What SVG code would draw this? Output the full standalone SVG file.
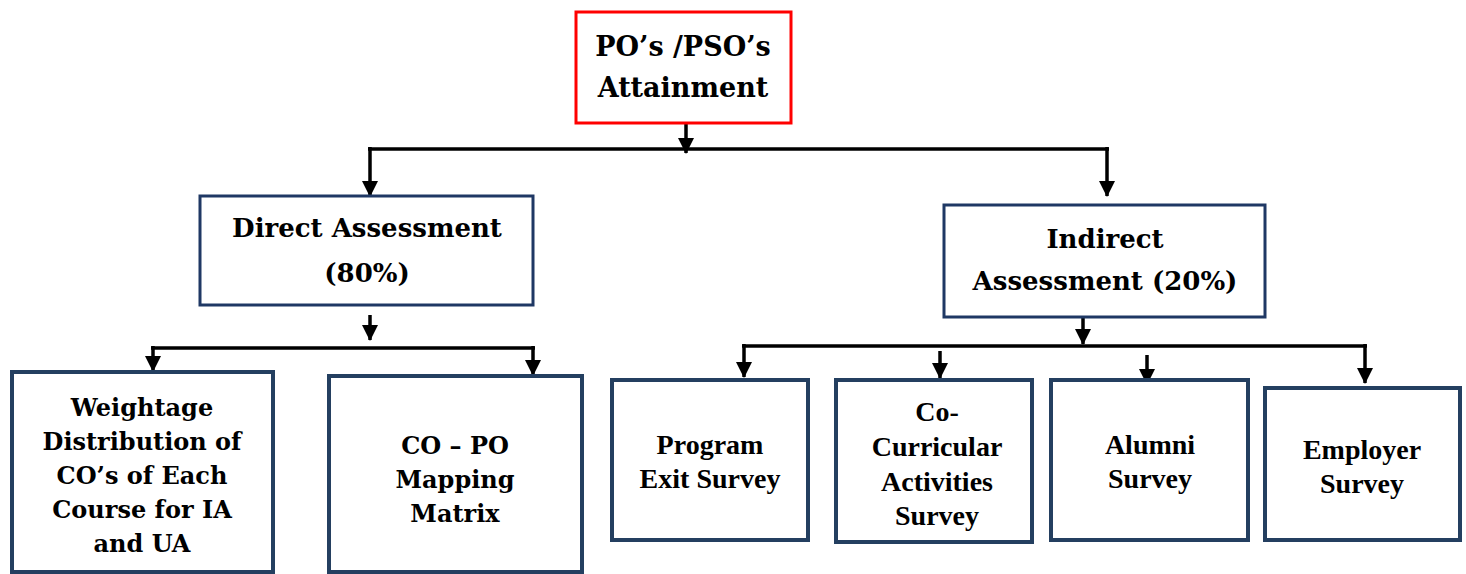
<svg xmlns="http://www.w3.org/2000/svg" width="1466" height="574" viewBox="0 0 1466 574">
<defs>
<marker id="ah" markerUnits="userSpaceOnUse" markerWidth="16" markerHeight="16" viewBox="0 0 16 16" refX="15" refY="8" orient="auto">
<path d="M0,0 L16,8 L0,16 Z" fill="#000"/>
</marker>
<style>
.top{fill:#fff;stroke:#ff0000;stroke-width:3}
.mid{fill:#fff;stroke:#1f3864;stroke-width:3}
.bot{fill:#fff;stroke:#243f60;stroke-width:4}
.t1{font-family:"DejaVu Serif",serif;font-weight:bold;fill:#000;text-anchor:middle}
.t2{font-family:"Liberation Serif",serif;font-weight:bold;fill:#000;text-anchor:middle;font-size:28px}
.ln{stroke:#000;stroke-width:3.5;fill:none}
.ar{stroke:#000;stroke-width:3.5;fill:none}
</style>
</defs>
<rect width="1466" height="574" fill="#fff"/>
<g id="connectors">
<line class="ln" x1="368" y1="149" x2="1109" y2="149"/>
<path class="ar" d="M686,124 V153" marker-end="url(#ah)"/>
<path class="ar" d="M370,147 V196" marker-end="url(#ah)"/>
<path class="ar" d="M1107,147 V196" marker-end="url(#ah)"/>
<path class="ar" d="M370,315 V340" marker-end="url(#ah)"/>
<line class="ln" x1="151" y1="348" x2="535" y2="348"/>
<path class="ar" d="M153,346 V371" marker-end="url(#ah)"/>
<path class="ar" d="M533,346 V375" marker-end="url(#ah)"/>
<path class="ar" d="M1083,317 V344" marker-end="url(#ah)"/>
<line class="ln" x1="742" y1="346" x2="1367" y2="346"/>
<path class="ar" d="M744,344 V377" marker-end="url(#ah)"/>
<path class="ar" d="M940,351 V378" marker-end="url(#ah)"/>
<path class="ar" d="M1147,355 V384" marker-end="url(#ah)"/>
<path class="ar" d="M1365,344 V383" marker-end="url(#ah)"/>
</g>
<g id="n-top">
<rect class="top" x="576" y="12" width="215" height="111"/>
<text class="t1" x="683" y="56" font-size="27">PO’s /PSO’s</text>
<text class="t1" x="683" y="97" font-size="27">Attainment</text>
</g>
<g id="n-direct">
<rect class="mid" x="200" y="196" width="333" height="109"/>
<text class="t1" x="367" y="237" font-size="26">Direct Assessment</text>
<text class="t1" x="367" y="282" font-size="26">(80%)</text>
</g>
<g id="n-indirect">
<rect class="mid" x="944" y="205" width="321" height="112"/>
<text class="t1" x="1105" y="248" font-size="26">Indirect</text>
<text class="t1" x="1105" y="290" font-size="26">Assessment (20%)</text>
</g>
<g id="n-weightage">
<rect class="bot" x="12" y="372" width="261" height="200"/>
<text class="t1" x="142" y="416" font-size="24">Weightage</text>
<text class="t1" x="142" y="450" font-size="24">Distribution of</text>
<text class="t1" x="142" y="484" font-size="24">CO’s of Each</text>
<text class="t1" x="142" y="518" font-size="24">Course for IA</text>
<text class="t1" x="142" y="552" font-size="24">and UA</text>
</g>
<g id="n-copo">
<rect class="bot" x="329" y="376" width="253" height="196"/>
<text class="t1" x="455" y="454" font-size="24">CO – PO</text>
<text class="t1" x="455" y="488" font-size="24">Mapping</text>
<text class="t1" x="455" y="522" font-size="24">Matrix</text>
</g>
<g id="n-exit">
<rect class="bot" x="612" y="380" width="196" height="160"/>
<text class="t2" x="710" y="454">Program</text>
<text class="t2" x="710" y="488">Exit Survey</text>
</g>
<g id="n-cocurricular">
<rect class="bot" x="836" y="380" width="196" height="162"/>
<text class="t2" x="937" y="421">Co-</text>
<text class="t2" x="937" y="456">Curricular</text>
<text class="t2" x="937" y="491">Activities</text>
<text class="t2" x="937" y="525">Survey</text>
</g>
<g id="n-alumni">
<rect class="bot" x="1051" y="380" width="197" height="160"/>
<text class="t2" x="1150" y="454">Alumni</text>
<text class="t2" x="1150" y="488">Survey</text>
</g>
<g id="n-employer">
<rect class="bot" x="1265" y="388" width="195" height="152"/>
<text class="t2" x="1362" y="459">Employer</text>
<text class="t2" x="1362" y="493">Survey</text>
</g>
</svg>
